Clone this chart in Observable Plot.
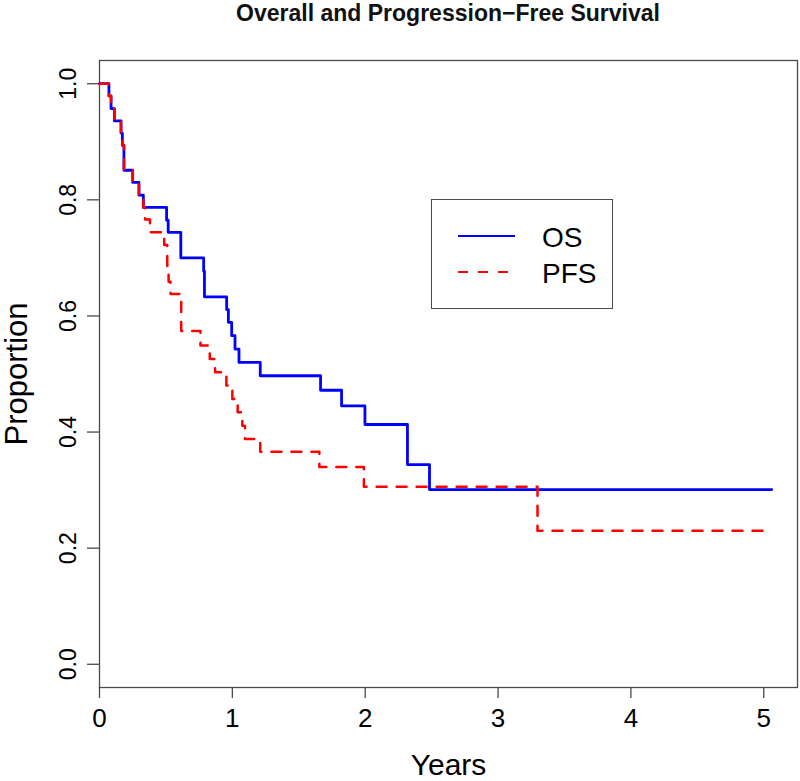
<!DOCTYPE html>
<html>
<head>
<meta charset="utf-8">
<script src="https://cdn.jsdelivr.net/npm/d3@7"></script>
<script src="https://cdn.jsdelivr.net/npm/@observablehq/plot@0.6"></script>
<style>
  body { margin: 0; background: #fff; font-family: "Liberation Sans", Arial, sans-serif; }
  #wrap { position: relative; width: 800px; height: 781px; overflow: hidden; }
  #title { height: 36px; font-size: 23px; font-weight: bold; line-height: 27px; text-align: center;
           padding-left: 99px; padding-right: 3px; box-sizing: border-box; color: #111; }
  #legend { position: absolute; left: 431px; top: 199px; width: 182px; height: 110px;
            box-sizing: border-box; border: 1.3px solid #4a4a4a; background: #fff; }
  #legend svg { position: absolute; left: -1px; top: -1px; }
</style>
</head>
<body>
<div id="wrap">
  <div id="title">Overall and Progression−Free Survival</div>
  <div id="chart"></div>
  <div id="legend"></div>
</div>
<script>
// ---- data (years, survival proportion) ----
const osTime  = [0, 0.071, 0.087, 0.112, 0.162, 0.172, 0.184, 0.25, 0.297, 0.33, 0.505, 0.517, 0.612, 0.784, 0.79, 0.957, 0.97, 0.995, 1.02, 1.05, 1.21, 1.664, 1.822, 1.998, 2.318, 2.484, 5.06];
const osSurv  = [1, 0.979, 0.957, 0.936, 0.915, 0.894, 0.851, 0.830, 0.808, 0.787, 0.765, 0.744, 0.700, 0.677, 0.633, 0.611, 0.589, 0.566, 0.543, 0.520, 0.497, 0.472, 0.445, 0.413, 0.344, 0.301, 0.301];
const pfsTime = [0, 0.071, 0.087, 0.112, 0.162, 0.172, 0.184, 0.25, 0.297, 0.33, 0.343, 0.38, 0.487, 0.51, 0.52, 0.535, 0.615, 0.76, 0.83, 0.87, 0.955, 1.0, 1.04, 1.075, 1.095, 1.21, 1.655, 1.99, 3.297, 5.06];
const pfsSurv = [1, 0.979, 0.957, 0.936, 0.915, 0.894, 0.851, 0.830, 0.808, 0.787, 0.766, 0.744, 0.722, 0.680, 0.659, 0.638, 0.574, 0.549, 0.526, 0.503, 0.480, 0.457, 0.434, 0.411, 0.388, 0.366, 0.340, 0.306, 0.230, 0.230];
const xTicks = [0, 1, 2, 3, 4, 5];
const yTicks = [0, 0.2, 0.4, 0.6, 0.8, 1.0];
const seriesNames = ["OS", "PFS"];
const seriesColors = ["#0000ff", "#ff0000"];

const os  = osTime.map((t, i) => ({t, s: osSurv[i]}));
const pfs = pfsTime.map((t, i) => ({t, s: pfsSurv[i]}));

const FONT = "Liberation Sans, Arial, Helvetica, sans-serif";
const AX = "#4a4a4a";

const chart = Plot.plot({
  width: 800,
  height: 745,
  marginTop: 24,
  marginBottom: 94,
  marginLeft: 99,
  marginRight: 3,
  style: {fontFamily: FONT, fontSize: "22px", color: "#000", background: "transparent", overflow: "visible"},
  x: {domain: [0, 5.254]},
  y: {domain: [-0.04, 1.04]},
  marks: [
    Plot.frame({stroke: AX, strokeWidth: 1.3}),
    Plot.axisX({ticks: xTicks, tickSize: 11, tickPadding: 10, fontSize: 26, stroke: AX, strokeWidth: 1.3,
                tickFormat: d => String(d), label: null}),
    Plot.axisY({ticks: yTicks, tickSize: 12, tickPadding: 12, tickRotate: -90, fontSize: 23, stroke: AX, strokeWidth: 1.3,
                tickFormat: d3.format(".1f"), label: null}),
    Plot.line(os,  {x: "t", y: "s", curve: "step-after", stroke: seriesColors[0], strokeWidth: 2.8}),
    Plot.line(pfs, {x: "t", y: "s", curve: "step-after", stroke: seriesColors[1], strokeWidth: 2.5, strokeDasharray: "10,10"}),
    Plot.text(["Years"], {frameAnchor: "bottom", dy: 87, lineAnchor: "bottom", textAnchor: "middle", fontSize: 30, fill: "#000"}),
    Plot.text(["Proportion"], {frameAnchor: "left", dx: -73, rotate: -90, lineAnchor: "bottom", textAnchor: "middle", fontSize: 31, fill: "#000"})
  ]
});
document.getElementById("chart").appendChild(chart);

// ---- legend ----
const leg = d3.select("#legend").append("svg").attr("width", 182).attr("height", 110);
seriesNames.forEach((name, i) => {
  const y = 37 + i * 36;
  leg.append("line").attr("x1", 27).attr("x2", i === 0 ? 84 : 78).attr("y1", y).attr("y2", y)
     .attr("stroke", seriesColors[i]).attr("stroke-width", 2)
     .attr("stroke-dasharray", i === 0 ? null : "10,10");
  leg.append("text").attr("x", 111).attr("y", y + 10.5).attr("font-size", 28)
     .attr("font-family", FONT).attr("fill", "#000").text(name);
});
</script>
</body>
</html>
